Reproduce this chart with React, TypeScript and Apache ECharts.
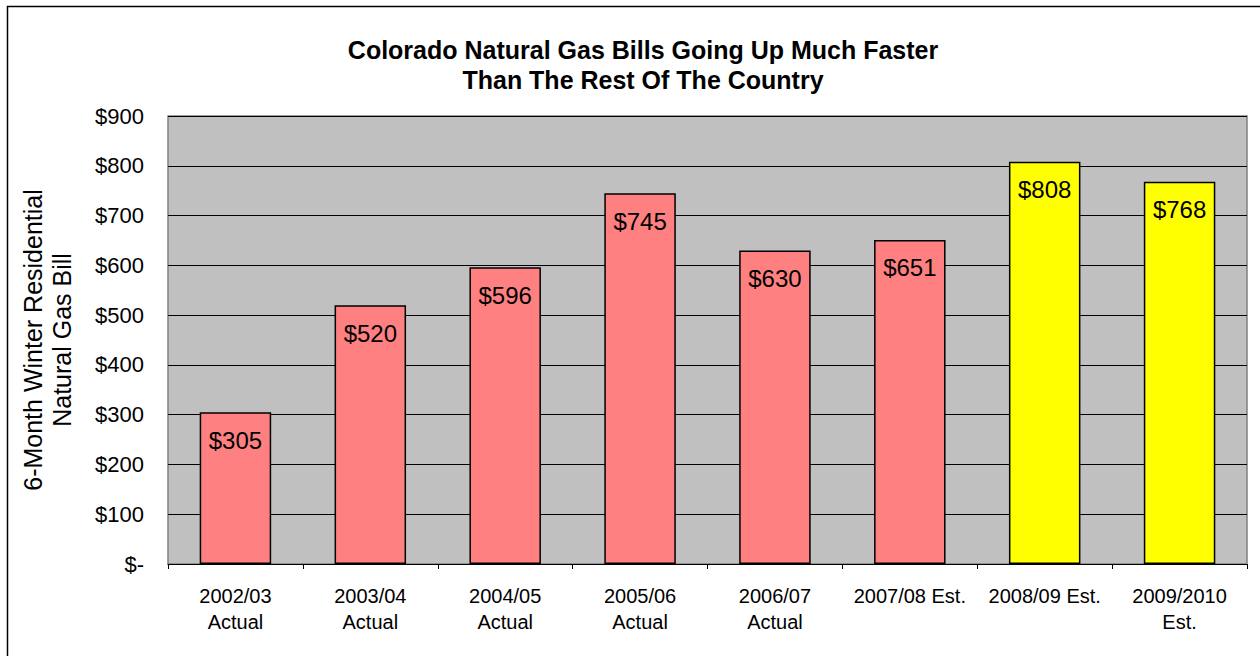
import React, { useEffect, useRef } from "react";
import * as echarts from "echarts";

const categories = [
  "2002/03\nActual",
  "2003/04\nActual",
  "2004/05\nActual",
  "2005/06\nActual",
  "2006/07\nActual",
  "2007/08 Est.",
  "2008/09 Est.",
  "2009/2010\nEst.",
];
const values = [305, 520, 596, 745, 630, 651, 808, 768];
const estimated = [false, false, false, false, false, false, true, true];
const titleLines = ["Colorado Natural Gas Bills Going Up Much Faster", "Than The Rest Of The Country"];
const yAxisName = "6-Month Winter Residential\nNatural Gas Bill";

const FONT = "Liberation Sans, Arial, sans-serif";

export default function App() {
  const ref = useRef<HTMLDivElement>(null);
  useEffect(() => {
    if (!ref.current) return;
    const chart = echarts.init(ref.current, null, { renderer: "svg" });
    chart.setOption({
      animation: false,
      backgroundColor: "#ffffff",
      title: {
        text: titleLines.join("\n"),
        left: 638,
        textAlign: "center",
        top: 30,
        textStyle: { fontFamily: FONT, fontSize: 25, fontWeight: "bold", color: "#000", lineHeight: 30 },
      },
      graphic: [
        {
          type: "rect",
          shape: { x: 7.5, y: 6.5, width: 1262, height: 700 },
          style: { fill: "none", stroke: "#000", lineWidth: 1.5 },
          silent: true,
          z: 100,
        },
      ],
      grid: {
        left: 168,
        right: 13,
        top: 116,
        bottom: 92,
        show: true,
        backgroundColor: "#C0C0C0",
        borderColor: "#808080",
        borderWidth: 1.5,
      },
      xAxis: {
        type: "category",
        data: categories,
        axisLine: { show: true, lineStyle: { color: "#000", width: 1 } },
        axisTick: { show: true, alignWithLabel: false, length: 5, lineStyle: { color: "#000" } },
        axisLabel: { fontFamily: FONT, fontSize: 20, color: "#000", lineHeight: 26, margin: 19, interval: 0 },
      },
      yAxis: {
        type: "value",
        min: 0,
        max: 900,
        interval: 100,
        name: yAxisName,
        nameLocation: "middle",
        nameGap: 92,
        nameTextStyle: { fontFamily: FONT, fontSize: 25, color: "#000", lineHeight: 29 },
        axisLine: { show: false },
        axisTick: { show: false },
        splitLine: { show: true, lineStyle: { color: "#000", width: 1 } },
        axisLabel: {
          fontFamily: FONT,
          fontSize: 22,
          color: "#000",
          margin: 24,
          formatter: (v: number) => (v === 0 ? "$-" : "$" + v),
        },
      },
      series: [
        {
          type: "bar",
          barWidth: "53%",
          data: values.map((v, i) => ({
            value: v,
            itemStyle: { color: estimated[i] ? "#FFFF00" : "#FF8080" },
          })),
          itemStyle: { borderColor: "#000", borderWidth: 1.5 },
          label: {
            show: true,
            position: "insideTop",
            distance: 16,
            fontFamily: FONT,
            fontSize: 24,
            color: "#000",
            formatter: (p: any) => "$" + p.value,
          },
        },
      ],
    });
    return () => chart.dispose();
  }, []);
  return (
    <div
      ref={ref}
      style={{ position: "fixed", left: 0, top: 0, width: 1260, height: 656 }}
    />
  );
}
